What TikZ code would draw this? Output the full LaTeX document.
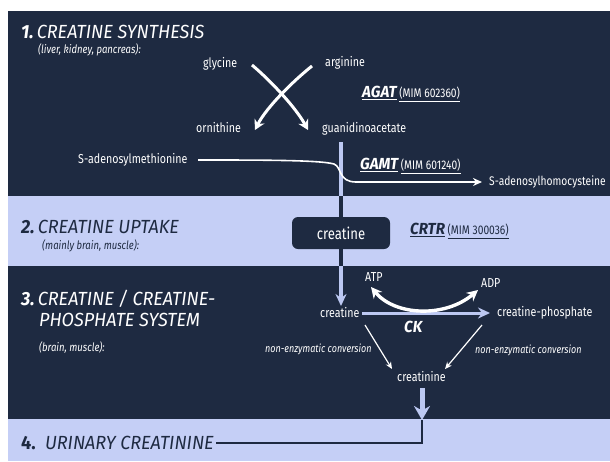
\documentclass[tikz,border=0pt]{standalone}
\usepackage{fontspec}
\setmainfont{Fira Sans}[FakeStretch=0.95]
\newfontfamily\cond{Fira Sans}[FakeStretch=0.82]
\usetikzlibrary{arrows.meta}
\definecolor{navy}{HTML}{1E2A41}
\definecolor{pale}{HTML}{C5CFF6}
\definecolor{paleline}{HTML}{BCC8F2}
\tikzset{
  head/.style={anchor=west, inner sep=0pt, font=\fontsize{19}{21}\selectfont\itshape},
  sub/.style={anchor=west, inner sep=0pt, font=\cond\fontsize{11.6}{13}\selectfont\itshape},
  mol/.style={anchor=west, inner sep=0pt, text=white, font=\cond\fontsize{13}{15}\selectfont},
  enz/.style={anchor=west, inner sep=0pt, font=\fontsize{16}{18}\selectfont},
  small/.style={anchor=west, inner sep=0pt, text=white, font=\cond\fontsize{11}{12}\selectfont\itshape},
  cross/.style={draw=white, line width=3pt, -{Stealth[length=10pt,width=11pt]}},
  thin/.style={draw=white, line width=1.2pt, -{Stealth[length=7pt,width=6pt]}},
}
\newcommand{\enzname}[2]{\underline{\bfseries\itshape #1}\,{\fontsize{12.5}{13}\selectfont\cond\underline{(MIM #2)}}}
\begin{document}
\begin{tikzpicture}[x=1pt,y=-1pt]
\useasboundingbox (0,0) rectangle (610,461);
\fill[white] (0,0) rectangle (610,461);
% bands
\fill[navy] (8,11) rectangle (610,196);
\fill[pale] (8,196) rectangle (610,266);
\fill[navy] (8,266) rectangle (610,419);
\fill[pale] (8,419) rectangle (610,461);

% section headers
\node[head, text=white] (h1) at (21,32) {{\bfseries 1.}\,CREATINE SYNTHESIS};
\node[sub, text=white] (s1) at (38,50) {(liver, kidney, pancreas):};
\node[head, text=navy] (h2) at (21,227) {{\bfseries 2.}\,CREATINE UPTAKE};
\node[sub, text=navy] (s2) at (42,246) {(mainly brain, muscle):};
\node[head, text=white] (h3a) at (21,299) {{\bfseries 3.}\,CREATINE / CREATINE-};
\node[head, text=white] (h3b) at (39,320) {PHOSPHATE SYSTEM};
\node[sub, text=white] (s3) at (39,348) {(brain, muscle):};
\node[head, text=navy] (h4) at (21,443) {{\bfseries\upshape 4.}\ \ URINARY CREATININE};

% molecules
\node[mol] (gly) at (203,64) {glycine};
\node[mol] (arg) at (325,63) {arginine};
\node[mol] (orn) at (196,128) {ornithine};
\node[mol] (gua) at (322,129) {guanidinoacetate};
\node[mol] (sam) at (78,160) {S-adenosylmethionine};
\node[mol, font=\cond\fontsize{12.5}{15}\selectfont] (sah) at (489,182) {S-adenosylhomocysteine};
\node[enz, text=white] (agat) at (362,94) {\enzname{AGAT}{602360}};
\node[enz, text=white] (gamt) at (360,166) {\enzname{GAMT}{601240}};
\node[enz, text=navy] (crtr) at (410,231) {\enzname{CRTR}{300036}};

\node[fill=navy, rounded corners=6pt, minimum width=98pt, minimum height=32pt,
      inner sep=0pt, text=white, font=\cond\fontsize{16}{18}\selectfont] (box) at (341,233) {creatine};

\node[mol] (atp) at (365,277) {ATP};
\node[mol] (adp) at (481,283) {ADP};
\node[mol] (cre) at (320,313) {creatine};
\node[mol] (crp) at (497,313) {creatine-phosphate};
\node[anchor=west, inner sep=0pt, text=white, font=\fontsize{16}{18}\selectfont\bfseries\itshape] (ck) at (404,327) {CK};
\node[small] (ne1) at (265,349) {non-enzymatic conversion};
\node[small] (ne2) at (475,350) {non-enzymatic conversion};
\node[mol] (crn) at (397,376) {creatinine};

% coordinates for connector ends
\coordinate (g1) at (252,65);
\coordinate (g2) at (308,130);
\coordinate (a1) at (312,66);
\coordinate (a2) at (255,130);
\coordinate (v0) at (341,142);
\coordinate (v1) at (341,196);
\coordinate (v2) at (341,266);
\coordinate (v3) at (341,306);
\coordinate (m1) at (198,160);
\coordinate (m2) at (482,182);
\coordinate (k1) at (362,313);
\coordinate (k2) at (490,313);
\coordinate (t1) at (371,287);
\coordinate (t2) at (478,290);
\coordinate (n1) at (365,325);
\coordinate (n2) at (392,369);
\coordinate (n3) at (482,325);
\coordinate (n4) at (445,369);
\coordinate (u0) at (422,388);
\coordinate (u1) at (422,420);
\coordinate (u2) at (422,443);
\coordinate (u3) at (h4.east);

% cross arrows
\draw[cross] (g1) .. controls (272,82) and (296,108) .. (g2);
\draw[cross] (a1) .. controls (292,82) and (266,108) .. (a2);

% vertical pathway line
\draw[paleline, line width=3.5pt] (v0) -- (v1);
\draw[navy, line width=3.5pt] (v1) -- (box.north);
\draw[navy, line width=3.5pt] (box.south) -- (v2);
\draw[paleline, line width=3.5pt, -{Stealth[length=12pt,width=11pt]}] (v2) -- (v3);

% SAM -> SAH
\draw[white, line width=1.6pt, -{Stealth[length=9pt,width=8pt]}]
  (m1) .. controls (260,160) and (320,160) .. (334,164)
  .. controls (342,167) and (338,182) .. (356,182) -- (m2);

% CK reaction
\draw[paleline, line width=3pt, -{Stealth[length=12pt,width=11pt]}] (k1) -- (k2);
\draw[white, line width=3.4pt, {Stealth[length=11pt,width=11pt]}-{Stealth[length=11pt,width=11pt]}]
  (t1) .. controls (395,316) and (445,318) .. (t2);

% non-enzymatic conversions
\draw[thin] (n1) -- (n2);
\draw[thin] (n3) -- (n4);

% urinary
\draw[paleline, line width=5pt, -{Stealth[length=14pt,width=16pt]}] (u0) -- (u1);
\draw[navy, line width=1.3pt] (u1) -- (u2) -- ([xshift=2pt]u3 |- u2);
\end{tikzpicture}
\end{document}
